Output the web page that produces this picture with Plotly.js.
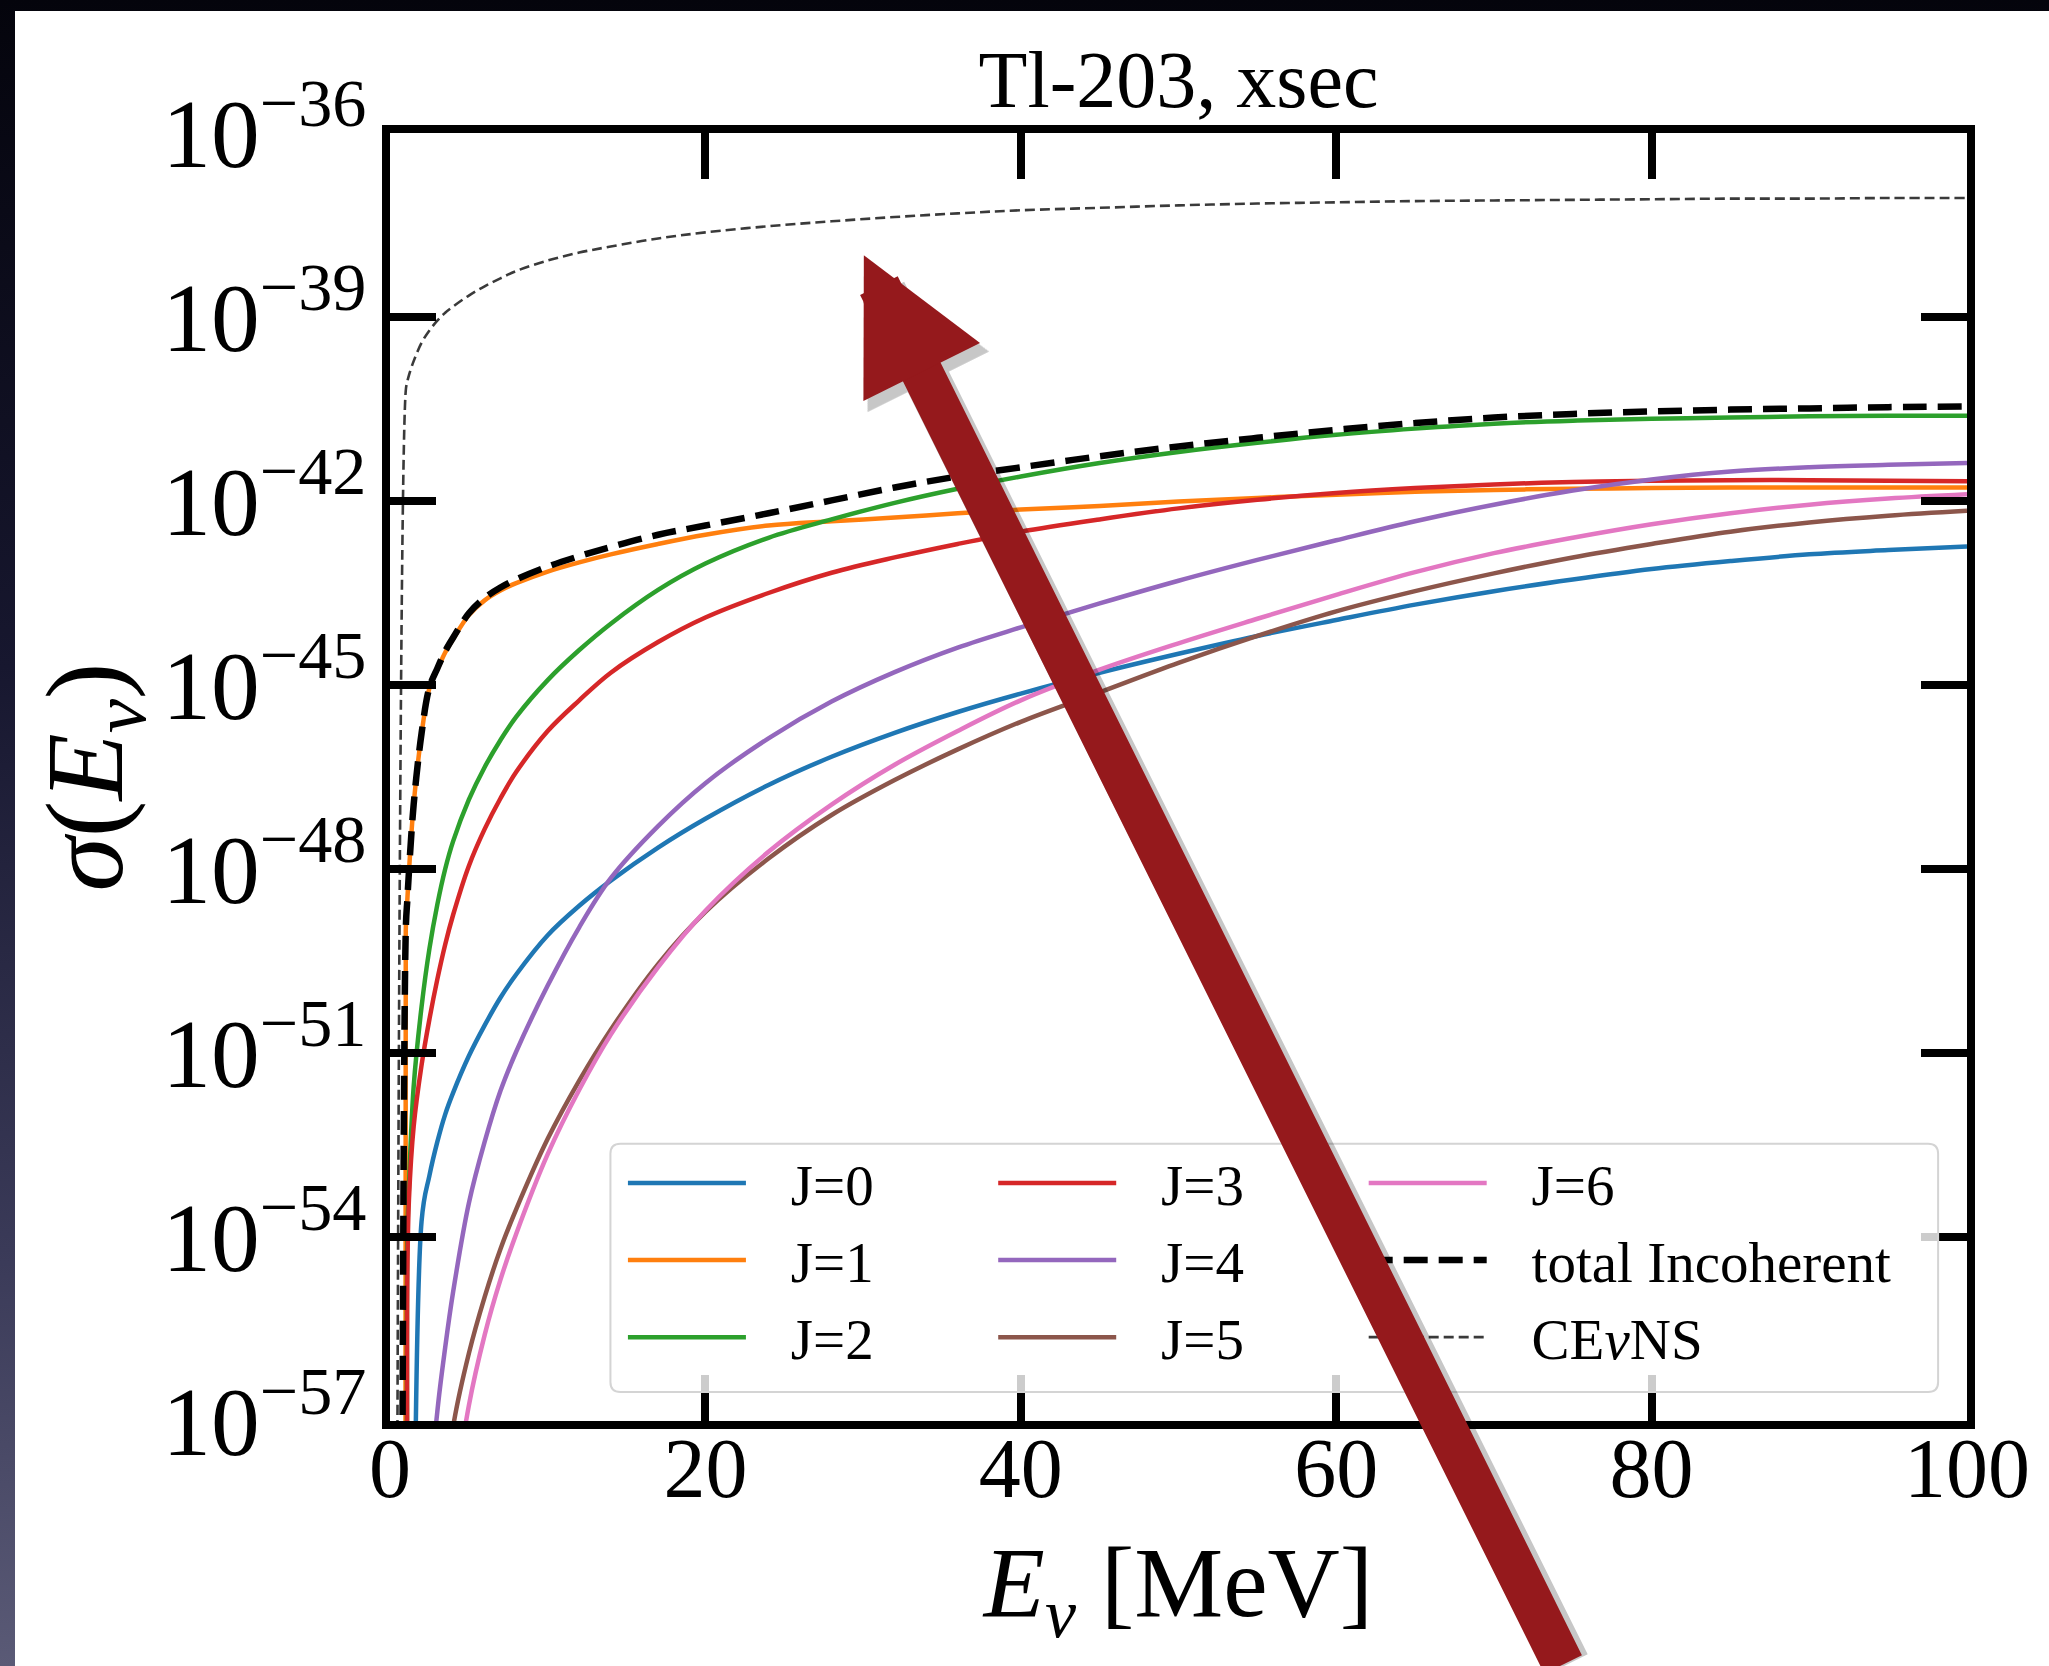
<!DOCTYPE html>
<html><head><meta charset="utf-8">
<script src="https://cdn.plot.ly/plotly-3.0.1.min.js"></script>
<style>
html,body{margin:0;padding:0;width:2049px;height:1666px;overflow:hidden;
 background:linear-gradient(180deg,#04040c 0%,#17172f 40%,#3a3a58 75%,#5a5a76 100%);}
#chart{position:absolute;left:15px;top:11px;width:2034px;height:1655px;background:#fff;}
</style></head><body><div id="chart"></div><script>
// Neutrino energy grid [MeV]
const energy = [0.5, 1, 1.1, 1.2, 1.5, 2, 2.5, 3, 3.5, 4, 5, 6, 7, 8, 10, 12, 14, 17, 20, 24, 28, 32, 36, 40, 45, 50, 55, 60, 65, 70, 75, 80, 85, 90, 95, 100];
// log10 of the cross section; null = sigma is zero (below threshold)
const logJ0 = [null, null, null, null, null, -53.75, -53.0, -52.45, -52.0, -51.65, -51.05, -50.55, -50.1, -49.72, -49.08, -48.6, -48.19, -47.65, -47.18, -46.63, -46.17, -45.78, -45.44, -45.14, -44.8, -44.49, -44.2, -43.94, -43.69, -43.47, -43.28, -43.11, -42.98, -42.87, -42.8, -42.74];
const logJ1 = [null, -49.0, -48.5, -48.05, -46.95, -45.8, -45.05, -44.75, -44.47, -44.25, -43.86, -43.62, -43.46, -43.34, -43.15, -43.0, -42.87, -42.7, -42.55, -42.4, -42.33, -42.27, -42.2, -42.14, -42.08, -42.01, -41.95, -41.9, -41.85, -41.82, -41.8, -41.79, -41.78, -41.78, -41.78, -41.78];
const logJ2 = [null, null, -54.0, -53.2, -51.55, -50.25, -49.3, -48.58, -48.0, -47.55, -46.87, -46.34, -45.9, -45.52, -44.92, -44.43, -44.0, -43.45, -43.02, -42.6, -42.3, -42.03, -41.8, -41.6, -41.38, -41.2, -41.05, -40.92, -40.82, -40.74, -40.69, -40.66, -40.64, -40.62, -40.61, -40.61];
const logJ3 = [null, null, -54.6, -53.4, -52.2, -51.2, -50.45, -49.8, -49.23, -48.75, -47.95, -47.35, -46.85, -46.42, -45.75, -45.25, -44.8, -44.3, -43.9, -43.5, -43.17, -42.92, -42.7, -42.5, -42.3, -42.12, -41.98, -41.87, -41.79, -41.73, -41.69, -41.67, -41.66, -41.66, -41.67, -41.68];
const logJ4 = [null, null, null, null, null, null, -58.5, -56.85, -55.8, -54.9, -53.45, -52.45, -51.62, -50.98, -49.9, -48.95, -48.15, -47.3, -46.6, -45.87, -45.27, -44.79, -44.39, -44.06, -43.67, -43.3, -42.96, -42.64, -42.33, -42.06, -41.83, -41.65, -41.52, -41.45, -41.41, -41.38];
const logJ5 = [null, null, null, null, null, null, null, -59.8, -58.3, -57.1, -55.9, -54.98, -54.2, -53.55, -52.4, -51.45, -50.62, -49.55, -48.7, -47.83, -47.12, -46.55, -46.05, -45.6, -45.12, -44.64, -44.2, -43.8, -43.47, -43.18, -42.92, -42.7, -42.5, -42.35, -42.24, -42.16];
const logJ6 = [null, null, null, null, null, null, null, null, -60.5, -58.5, -56.75, -55.6, -54.7, -53.95, -52.65, -51.6, -50.7, -49.6, -48.68, -47.72, -46.95, -46.3, -45.75, -45.25, -44.75, -44.32, -43.92, -43.53, -43.16, -42.85, -42.6, -42.38, -42.2, -42.06, -41.96, -41.89];
const logTotal = [null, -49.0, -48.5, -48.05, -46.95, -45.79, -45.04, -44.73, -44.45, -44.23, -43.83, -43.58, -43.41, -43.28, -43.07, -42.9, -42.75, -42.55, -42.4, -42.2, -41.99, -41.78, -41.6, -41.45, -41.27, -41.11, -40.97, -40.84, -40.73, -40.64, -40.58, -40.54, -40.51, -40.49, -40.47, -40.46];
const logCEvNS = [null, -40.2, -40.05, -39.95, -39.72, -39.42, -39.22, -39.06, -38.93, -38.83, -38.65, -38.5, -38.37, -38.25, -38.08, -37.95, -37.85, -37.72, -37.62, -37.52, -37.44, -37.37, -37.31, -37.26, -37.22, -37.18, -37.15, -37.13, -37.11, -37.10, -37.09, -37.08, -37.07, -37.07, -37.06, -37.06];

const seriesNames = ['J=0','J=1','J=2','J=3','J=4','J=5','J=6','total Incoherent','CE<i>ν</i>NS'];
const xTickVals = [0, 20, 40, 60, 80, 100];

// zero cross-section -> tiny positive so the log curve drops straight down (like matplotlib clipping)
const toSigma = arr => arr.map(v => v === null ? 1e-300 : Math.pow(10, v));

const FONT = '"Liberation Serif", "DejaVu Serif", serif';
const colors = ['#1f77b4','#ff7f0e','#2ca02c','#d62728','#9467bd','#8c564b','#e377c2'];
const jLogs = [logJ0, logJ1, logJ2, logJ3, logJ4, logJ5, logJ6];
const legendOf = ['legend','legend','legend','legend2','legend2','legend2','legend3','legend3','legend3'];
const GAP = '\u00a0\u00a0\u2009';

const data = jLogs.map((arr, i) => ({
  type:'scatter', mode:'lines', x: energy, y: toSigma(arr), name: GAP + seriesNames[i],
  line:{color: colors[i], width: 4.5, shape:'spline', smoothing:1}, legend: legendOf[i]
}));
data.push({type:'scatter', mode:'lines', x: energy, y: toSigma(logTotal), name: GAP + seriesNames[7],
  line:{color:'#000', width:6.5, dash:'24px,11px', shape:'spline', smoothing:1}, legend: legendOf[7]});
data.push({type:'scatter', mode:'lines', x: energy, y: toSigma(logCEvNS), name: GAP + seriesNames[8],
  line:{color:'#3a3a3a', width:2.6, dash:'10px,5px', shape:'spline', smoothing:1}, legend: legendOf[8]});

// plot area in page px: x 390..1967.5, y 132.7..1420.6
const PX0 = 390, PX1 = 1967.5, PY0 = 132.7, PY1 = 1420.6;
const px = X => (X - PX0) / (PX1 - PX0);
const py = Y => (PY1 - Y) / (PY1 - PY0);

const legendBase = {orientation:'v', bgcolor:'rgba(0,0,0,0)', borderwidth:0,
  font:{family:FONT, size:57, color:'#000'}, itemwidth:118, xanchor:'left', yanchor:'top', tracegroupgap:0};

// rounded legend frame
const lx0 = px(610.5), lx1 = px(1938.6), ly0 = py(1391.7), ly1 = py(1143.3);
const rx = 10/(PX1-PX0), ry = 10/(PY1-PY0);
const framePath = `M${lx0+rx},${ly0} L${lx1-rx},${ly0} Q${lx1},${ly0} ${lx1},${ly0+ry} L${lx1},${ly1-ry} Q${lx1},${ly1} ${lx1-rx},${ly1} L${lx0+rx},${ly1} Q${lx0},${ly1} ${lx0},${ly1-ry} L${lx0},${ly0+ry} Q${lx0},${ly0} ${lx0+rx},${ly0} Z`;

const axisCommon = {ticks:'inside', ticklen:46, tickwidth:8, tickcolor:'#000', showline:true, linewidth:8,
  linecolor:'#000', mirror:'ticks', showgrid:false, zeroline:false, automargin:false};

const layout = {
  width:2034, height:1655,
  margin:{l:PX0-15, r:2049-PX1, t:PY0-11, b:1666-PY1},
  paper_bgcolor:'#fff', plot_bgcolor:'#fff',
  showlegend:true,
  title:{text:'Tl-203, xsec', x:0.5, xref:'paper', xanchor:'center', y:1-68/1655, yref:'container', yanchor:'middle',
    font:{family:FONT, size:80, color:'#000'}},
  xaxis:Object.assign({}, axisCommon, {range:[0,100], tickvals:xTickVals, ticklabelstandoff:-33,
    tickfont:{family:FONT, size:84, color:'#000'},
    title:{text:'<i>E</i><sub><i>ν</i></sub> [MeV]', font:{family:FONT, size:100, color:'#000'}, standoff:35}}),
  yaxis:Object.assign({}, axisCommon, {type:'log', range:[-57,-36], dtick:3, tick0:0, exponentformat:'power', showexponent:'all',
    tickfont:{family:FONT, size:78, color:'#000'},
    title:{text:'<i>σ</i>(<i>E</i><sub><i>ν</i></sub>)', font:{family:FONT, size:110, color:'#000'}, standoff:4}}),
  legend:Object.assign({}, legendBase, {x:px(623), y:py(1139)}),
  legend2:Object.assign({}, legendBase, {x:px(993.4), y:py(1139)}),
  legend3:Object.assign({}, legendBase, {x:px(1364), y:py(1139)}),
  shapes:[{type:'path', xref:'paper', yref:'paper', layer:'above', path:framePath,
    fillcolor:'rgba(255,255,255,0.8)', line:{color:'#d4d4d4', width:2}}],
  annotations:[
    {xref:'paper', yref:'paper', x:px(868), y:py(260), ax:700, ay:1465, axref:'pixel', ayref:'pixel', text:'',
     showarrow:true, arrowhead:2, arrowwidth:46, arrowsize:0.59, arrowcolor:'rgba(0,0,0,0.22)', standoff:0},
    {xref:'paper', yref:'paper', x:px(864), y:py(255), ax:700, ay:1465, axref:'pixel', ayref:'pixel', text:'',
     showarrow:true, arrowhead:2, arrowwidth:42, arrowsize:0.62, arrowcolor:'#95191c', standoff:0}
  ]
};

Plotly.newPlot('chart', data, layout, {displayModeBar:false, staticPlot:true});
</script></body></html>
